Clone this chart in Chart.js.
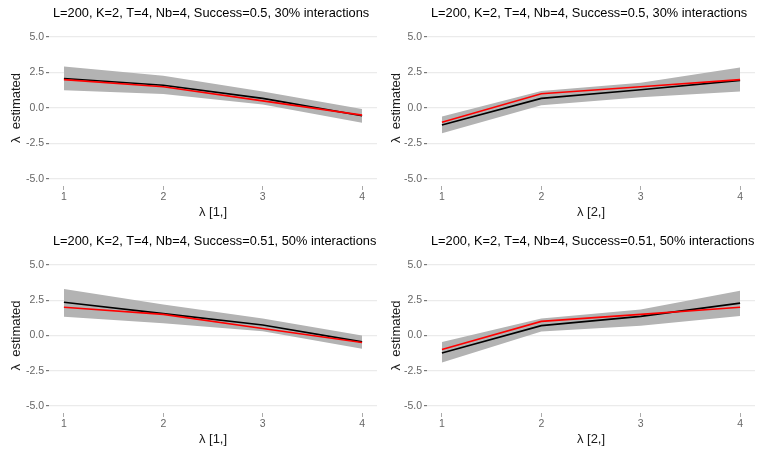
<!DOCTYPE html>
<html lang="en">
<head>
<meta charset="UTF-8">
<title>Lambda estimated</title>
<script src="https://cdn.jsdelivr.net/npm/chart.js"></script>
<style>
  body { margin: 0; background: #fff; }
  #wrap { position: relative; width: 761px; height: 455px; }
  .panel { position: absolute; }
</style>
</head>
<body>
<div id="wrap">
  <div class="panel" style="left:0;top:0;width:380px;height:228px"><canvas id="c1"></canvas></div>
  <div class="panel" style="left:380px;top:0;width:381px;height:228px"><canvas id="c2"></canvas></div>
  <div class="panel" style="left:0;top:228px;width:380px;height:227px"><canvas id="c3"></canvas></div>
  <div class="panel" style="left:380px;top:228px;width:381px;height:227px"><canvas id="c4"></canvas></div>
</div>
<script>
// x positions and y ticks
var lambdaIndex = [1, 2, 3, 4];
var yTicks = [-5, -2.5, 0, 2.5, 5];

var title30 = 'L=200, K=2, T=4, Nb=4, Success=0.5, 30% interactions';
var title50 = 'L=200, K=2, T=4, Nb=4, Success=0.51, 50% interactions';

// panel 1 : lambda[1,], 30%
var true1 = [2, 1.5, 0.5, -0.5];
var mean1 = [2.08, 1.6, 0.68, -0.55];
var low1  = [1.26, 0.98, 0.25, -1.05];
var high1 = [2.93, 2.27, 1.17, -0.07];

// panel 2 : lambda[2,], 30%
var true2 = [-1, 1, 1.5, 2];
var mean2 = [-1.2, 0.68, 1.29, 1.95];
var low2  = [-1.78, 0.2, 0.75, 1.17];
var high2 = [-0.6, 1.2, 1.78, 2.86];

// panel 3 : lambda[1,], 50%
var true3 = [2, 1.5, 0.5, -0.5];
var mean3 = [2.36, 1.55, 0.75, -0.45];
var low3  = [1.33, 0.87, 0.3, -0.94];
var high3 = [3.3, 2.2, 1.2, 0.0];

// panel 4 : lambda[2,], 50%
var true4 = [-1, 1, 1.5, 2];
var mean4 = [-1.24, 0.7, 1.36, 2.3];
var low4  = [-1.92, 0.28, 0.7, 1.38];
var high4 = [-0.47, 1.2, 1.85, 3.18];

Chart.defaults.font.family = '"Liberation Sans", Arial, sans-serif';

function pts(vals) {
  return vals.map(function(v, i) { return {x: lambdaIndex[i], y: v}; });
}

// title left aligned on the plot area, like ggplot
var panelTitle = {
  id: 'panelTitle',
  afterDraw: function(chart, args, opts) {
    var ctx = chart.ctx;
    ctx.save();
    ctx.font = '12.8px "Liberation Sans", Arial, sans-serif';
    ctx.fillStyle = '#000';
    ctx.textBaseline = 'middle';
    ctx.fillText(opts.text, chart.chartArea.left + 4, 13);
    ctx.restore();
  }
};

function makeChart(id, title, xTitle, truth, mean, low, high, leftW, rightPad) {
  new Chart(document.getElementById(id), {
    type: 'line',
    data: {
      datasets: [
        {data: pts(truth), borderColor: '#ff0000', borderWidth: 1.6, pointRadius: 0, fill: false},
        {data: pts(mean), borderColor: '#000000', borderWidth: 1.6, pointRadius: 0, fill: false},
        {data: pts(low), borderColor: 'rgba(0,0,0,0)', pointRadius: 0, fill: false},
        {data: pts(high), borderColor: 'rgba(0,0,0,0)', backgroundColor: '#b3b3b3', pointRadius: 0, fill: 2}
      ]
    },
    options: {
      animation: false,
      responsive: true,
      maintainAspectRatio: false,
      layout: {padding: {top: 30, right: rightPad, left: 0, bottom: 0}},
      plugins: {
        legend: {display: false},
        tooltip: {enabled: false},
        panelTitle: {text: title}
      },
      scales: {
        x: {
          type: 'linear', min: 0.85, max: 4.15,
          afterBuildTicks: function(s) { s.ticks = lambdaIndex.map(function(v) { return {value: v}; }); },
          afterFit: function(s) { s.height = 42; },
          border: {display: false},
          grid: {drawOnChartArea: false, drawTicks: true, tickLength: 4, tickColor: '#aaa'},
          ticks: {color: '#666', font: {size: 10.5}, padding: 1, maxRotation: 0},
          title: {display: true, text: xTitle, color: '#1a1a1a', font: {size: 13}, padding: {top: 0, bottom: 8}}
        },
        y: {
          min: -5.5, max: 5.5,
          afterBuildTicks: function(s) { s.ticks = yTicks.map(function(v) { return {value: v}; }); },
          afterFit: function(s) { s.width = leftW; },
          border: {display: false},
          grid: {color: '#ebebeb', lineWidth: 1.2, tickLength: 3, tickColor: '#777'},
          ticks: {color: '#666', font: {size: 10.5}, padding: 2,
                  callback: function(v) { return v.toFixed(1); }},
          title: {display: true, text: 'λ  estimated', color: '#1a1a1a', font: {size: 13}, padding: {top: 8.5, bottom: 0}}
        }
      }
    },
    plugins: [panelTitle]
  });
}

makeChart('c1', title30, 'λ [1,]', true1, mean1, low1, high1, 49, 3);
makeChart('c2', title30, 'λ [2,]', true2, mean2, low2, high2, 47, 6);
makeChart('c3', title50, 'λ [1,]', true3, mean3, low3, high3, 49, 3);
makeChart('c4', title50, 'λ [2,]', true4, mean4, low4, high4, 47, 6);
</script>
</body>
</html>
